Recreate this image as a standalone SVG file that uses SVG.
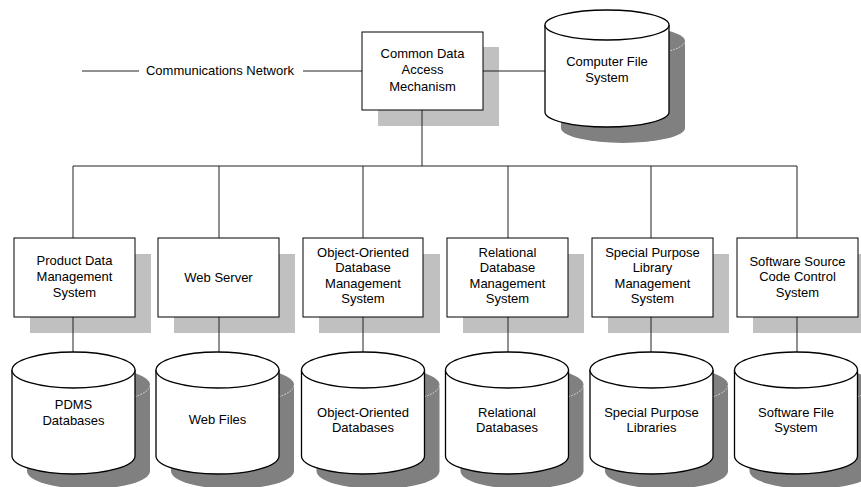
<svg xmlns="http://www.w3.org/2000/svg" xmlns:xlink="http://www.w3.org/1999/xlink" width="861" height="487" viewBox="0 0 861 487">
<style>
text{font-family:"Liberation Sans",Arial,sans-serif;font-size:13px;fill:#000;text-anchor:middle}
.box{fill:#fff;stroke:#000;stroke-width:1}
.bshadow{fill:#c0c0c0}
.cyl{fill:#fff;stroke:#000;stroke-width:1.3}
.cshadow{fill:#808080}
.cdash{fill:none;stroke:#fff;stroke-width:0.8;stroke-dasharray:1.5 1.5}
.ln{fill:none;stroke:#222;stroke-width:1}
</style>
<defs>
<g id="cylS">
<path class="cshadow" d="M-61.5,370 A61.5 18 0 0 1 61.5,370 L61.5,456 A61.5 18 0 0 1 -61.5,456 Z" transform="translate(15,15)"/>
<path class="cdash" d="M-61.5,370 A61.5 18 0 0 0 61.5,370" transform="translate(15,15)"/>
</g>
<g id="cylB">
<path class="cyl" d="M-61.5,370 A61.5 18 0 0 1 61.5,370 L61.5,456 A61.5 18 0 0 1 -61.5,456 Z"/>
<path class="cyl" fill="none" d="M-61.5,370 A61.5 18 0 0 0 61.5,370"/>
</g>
</defs>

<!-- shadows of boxes -->
<rect class="bshadow" x="378" y="47" width="121" height="79"/>
<rect class="bshadow" x="30" y="254" width="121" height="79"/>
<rect class="bshadow" x="174" y="254" width="121" height="79"/>
<rect class="bshadow" x="319" y="254" width="121" height="79"/>
<rect class="bshadow" x="463" y="254" width="121" height="79"/>
<rect class="bshadow" x="608" y="254" width="121" height="79"/>
<rect class="bshadow" x="753" y="254" width="121" height="79"/>

<g id="connectors">
<line class="ln" x1="82" y1="71" x2="139" y2="71"/>
<line class="ln" x1="303" y1="71" x2="362" y2="71"/>
<line class="ln" x1="483" y1="71" x2="545" y2="71"/>
<line class="ln" x1="422" y1="110" x2="422" y2="166"/>
<line class="ln" x1="73" y1="166" x2="797" y2="166"/>
<line class="ln" x1="73" y1="166" x2="73" y2="238"/>
<line class="ln" x1="219" y1="166" x2="219" y2="238"/>
<line class="ln" x1="363" y1="166" x2="363" y2="238"/>
<line class="ln" x1="508" y1="166" x2="508" y2="238"/>
<line class="ln" x1="651" y1="166" x2="651" y2="238"/>
<line class="ln" x1="797" y1="166" x2="797" y2="238"/>
<line class="ln" x1="73" y1="317" x2="73" y2="352"/>
<line class="ln" x1="219" y1="317" x2="219" y2="352"/>
<line class="ln" x1="363" y1="317" x2="363" y2="352"/>
<line class="ln" x1="508" y1="317" x2="508" y2="352"/>
<line class="ln" x1="651" y1="317" x2="651" y2="352"/>
<line class="ln" x1="797" y1="317" x2="797" y2="352"/>
</g>

<g id="net"><text x="220" y="75">Communications Network</text></g>

<g id="cdam">
<rect class="box" x="362" y="32" width="121" height="78"/>
<text x="422.5" y="58">Common Data</text>
<text x="422.5" y="74">Access</text>
<text x="422.5" y="91">Mechanism</text>
</g>

<g id="cfs">
<path class="cshadow" d="M561,41 A62 15 0 0 1 685,41 L685,128 A62 15 0 0 1 561,128 Z"/>
<path class="cdash" d="M561,41 A62 15 0 0 0 685,41"/>
<path class="cyl" d="M545,25 A62 15 0 0 1 669,25 L669,112 A62 15 0 0 1 545,112 Z"/>
<path class="cyl" fill="none" d="M545,25 A62 15 0 0 0 669,25"/>
<text x="607" y="66">Computer File</text>
<text x="607" y="82">System</text>
</g>

<g id="pdms">
<rect class="box" x="14" y="238" width="121" height="79"/>
<text x="74.5" y="265">Product Data</text>
<text x="74.5" y="281">Management</text>
<text x="74.5" y="297">System</text>
</g>
<g id="web">
<rect class="box" x="158" y="238" width="121" height="79"/>
<text x="218.5" y="282">Web Server</text>
</g>
<g id="oodbms">
<rect class="box" x="303" y="238" width="120" height="79"/>
<text x="363" y="257">Object-Oriented</text>
<text x="363" y="272">Database</text>
<text x="363" y="288">Management</text>
<text x="363" y="303">System</text>
</g>
<g id="rdbms">
<rect class="box" x="447" y="238" width="121" height="79"/>
<text x="507.5" y="257">Relational</text>
<text x="507.5" y="272">Database</text>
<text x="507.5" y="288">Management</text>
<text x="507.5" y="303">System</text>
</g>
<g id="splms">
<rect class="box" x="592" y="238" width="121" height="79"/>
<text x="652.5" y="257">Special Purpose</text>
<text x="652.5" y="272">Library</text>
<text x="652.5" y="288">Management</text>
<text x="652.5" y="303">System</text>
</g>
<g id="sscc">
<rect class="box" x="737" y="238" width="121" height="79"/>
<text x="797.5" y="266">Software Source</text>
<text x="797.5" y="281">Code Control</text>
<text x="797.5" y="297">System</text>
</g>

<g id="pdmsdb">
<use xlink:href="#cylS" transform="translate(73.5,0)"/>
<use xlink:href="#cylB" transform="translate(73.5,0)"/>
<text x="73.5" y="409">PDMS</text>
<text x="73.5" y="425">Databases</text>
</g>
<g id="webfiles">
<use xlink:href="#cylS" transform="translate(217.5,0)"/>
<use xlink:href="#cylB" transform="translate(217.5,0)"/>
<text x="217.5" y="424">Web Files</text>
</g>
<g id="oodb">
<use xlink:href="#cylS" transform="translate(363,0)"/>
<use xlink:href="#cylB" transform="translate(363,0)"/>
<text x="363" y="417">Object-Oriented</text>
<text x="363" y="432">Databases</text>
</g>
<g id="rdb">
<use xlink:href="#cylS" transform="translate(507,0)"/>
<use xlink:href="#cylB" transform="translate(507,0)"/>
<text x="507" y="417">Relational</text>
<text x="507" y="432">Databases</text>
</g>
<g id="splib">
<use xlink:href="#cylS" transform="translate(651.5,0)"/>
<use xlink:href="#cylB" transform="translate(651.5,0)"/>
<text x="651.5" y="417">Special Purpose</text>
<text x="651.5" y="432">Libraries</text>
</g>
<g id="swfs">
<use xlink:href="#cylS" transform="translate(796,0)"/>
<use xlink:href="#cylB" transform="translate(796,0)"/>
<text x="796" y="417">Software File</text>
<text x="796" y="432">System</text>
</g>
</svg>
